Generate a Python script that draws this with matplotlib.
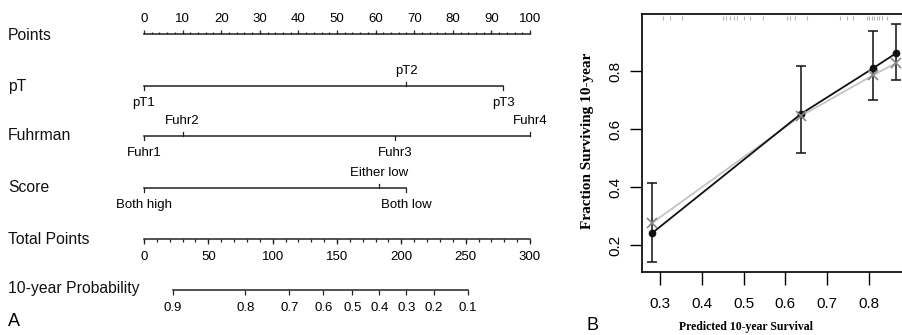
import numpy as np
import matplotlib
matplotlib.use("Agg")
import matplotlib.pyplot as plt

plt.rcParams['font.family'] = ['Liberation Sans', 'DejaVu Sans']

# ---- nomogram data (A) ----
points_ticks = np.arange(0, 101, 10)
pT_levels = ['pT1', 'pT2', 'pT3']
pT_pts = [0, 68, 93]
pT_above = [False, True, False]
fuhr_levels = ['Fuhr1', 'Fuhr2', 'Fuhr3', 'Fuhr4']
fuhr_pts = [0, 10, 65, 100]
fuhr_above = [False, True, False, True]
score_levels = ['Both high', 'Either low', 'Both low']
score_pts = [0, 61, 68]
score_above = [False, True, False]
total_ticks = np.arange(0, 301, 50)
prob_labels = ['0.9', '0.8', '0.7', '0.6', '0.5', '0.4', '0.3', '0.2', '0.1']
prob_total = [22.6, 78.7, 113, 139.5, 162, 183, 204, 225, 251.7]

# ---- calibration data (B) ----
pred = [0.281, 0.637, 0.81, 0.865]
observed = [0.241, 0.652, 0.81, 0.862]
obs_lo = [0.141, 0.517, 0.70, 0.769]
obs_hi = [0.414, 0.817, 0.94, 0.962]
corrected = [0.276, 0.645, 0.786, 0.828]
rug_x = [0.307, 0.324, 0.353, 0.451, 0.458, 0.467, 0.476, 0.484, 0.50, 0.515,
         0.546, 0.604, 0.612, 0.623, 0.652, 0.731, 0.747, 0.762, 0.795, 0.80,
         0.807, 0.813, 0.819, 0.825, 0.831, 0.843]

fig = plt.figure(figsize=(9.02, 3.35), dpi=100)

# nomogram: x in points units, y in pixel rows
ax = fig.add_axes([0, 0, 560 / 902, 1])
ppx = 3.86
ax.set_xlim(-144 / ppx, (560 - 144) / ppx)
ax.set_ylim(335, 0)
ax.axis('off')
lc = '#222222'
lab_x = (8 - 144) / ppx
row_fs = 11.3
fs = 9.5


def row_label(y, s):
    ax.text(lab_x, y, s, fontsize=row_fs, va='center', ha='left', color='#111111')


# Points
y = 34
row_label(36, 'Points')
ax.plot([0, 100], [y, y], color=lc, lw=1.1)
ax.vlines(np.arange(0, 101, 2), y - 2.5, y, color=lc, lw=0.9)
ax.vlines(points_ticks, y - 4.5, y, color=lc, lw=0.9)
for t in points_ticks:
    ax.text(t, 19, str(t), fontsize=fs, ha='center', va='center')


def factor_row(y, levels, pts, above):
    ax.plot([min(pts), max(pts)], [y, y], color=lc, lw=1.1)
    for lv, p, a in zip(levels, pts, above):
        if a:
            ax.plot([p, p], [y, y - 4], color=lc, lw=0.9)
            ax.text(p, y - 15, lv, fontsize=fs, ha='center', va='center')
        else:
            ax.plot([p, p], [y, y + 4], color=lc, lw=0.9)
            ax.text(p, y + 17, lv, fontsize=fs, ha='center', va='center')


row_label(86, 'pT')
factor_row(86, pT_levels, pT_pts, pT_above)
row_label(136, 'Fuhrman')
factor_row(136, fuhr_levels, fuhr_pts, fuhr_above)
row_label(187, 'Score')
factor_row(188, score_levels, score_pts, score_above)

# Total Points (scaled onto the points axis)
y = 239
row_label(239, 'Total Points')
tx = np.arange(0, 301, 10) / 3.0
ax.plot([0, 100], [y, y], color=lc, lw=1.1)
ax.vlines(tx, y, y + 3, color=lc, lw=0.9)
ax.vlines(total_ticks / 3.0, y, y + 4.5, color=lc, lw=0.9)
for t in total_ticks:
    ax.text(t / 3.0, 257, str(t), fontsize=fs, ha='center', va='center')

# 10-year Probability
y = 290
row_label(289, '10-year Probability')
px = np.array(prob_total) / 3.0
ax.plot([px.min(), px.max()], [y, y], color=lc, lw=1.1)
ax.vlines(px, y, y + 5, color=lc, lw=0.9)
for p, s in zip(px, prob_labels):
    ax.text(p, 308, s, fontsize=fs, ha='center', va='center')

fig.text(8 / 902, 1 - 322 / 335, 'A', fontsize=13, ha='left', va='center')

# ---- calibration plot ----
ax2 = fig.add_axes([642 / 902, 63 / 335, 270 / 902, 258 / 335])
ax2.set_xlim(0.257, 0.903)
ax2.set_ylim(0.107, 0.997)
for sp in ax2.spines.values():
    sp.set_linewidth(1.3)
    sp.set_color('#111111')

ax2.vlines(rug_x, 0.975, 0.99, color='#b5b5b5', lw=0.8)
ax2.plot(pred, corrected, color='#c4c4c4', lw=1.3, zorder=2)
ax2.plot(pred, observed, color='#111111', lw=1.3, zorder=3)
ax2.errorbar(pred, observed, yerr=[np.subtract(observed, obs_lo), np.subtract(obs_hi, observed)],
             fmt='o', color='#111111', ms=4.5, capsize=3.5, elinewidth=1.1, capthick=1.1, zorder=4)
ax2.plot(pred, corrected, 'x', color='#888888', ms=7, mew=1.2, zorder=5)

ax2.set_xticks([0.3, 0.4, 0.5, 0.6, 0.7, 0.8])
ax2.set_yticks([0.2, 0.4, 0.6, 0.8])
ax2.tick_params(axis='x', length=9, width=1.0, labelsize=11, pad=9)
ax2.tick_params(axis='y', length=9, width=1.0, labelsize=11, pad=5)
for lbl in ax2.get_yticklabels():
    lbl.set_rotation(90)
    lbl.set_va('center')

fig.text(588 / 902, 1 - 141 / 335, 'Fraction Surviving 10-year', rotation=90,
         family='Liberation Serif', fontweight='bold', fontsize=11,
         ha='center', va='center')
fig.text(746 / 902, 1 - 327 / 335, 'Predicted 10-year Survival',
         family='Liberation Serif', fontweight='bold', fontsize=8.5,
         ha='center', va='center')
fig.text(586 / 902, 1 - 326 / 335, 'B', fontsize=13, ha='left', va='center')

fig.savefig('out.png', dpi=100)
